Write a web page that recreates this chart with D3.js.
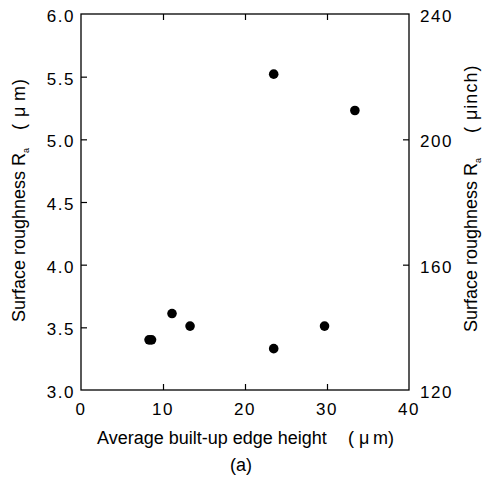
<!DOCTYPE html>
<html>
<head>
<meta charset="utf-8">
<script src="https://cdn.jsdelivr.net/npm/d3@7"></script>
<style>
    body { margin: 0; background: #fff; }
    text { font-family: "Liberation Sans", Arial, sans-serif; fill: #000; }
</style>
</head>
<body>
<div id="chart"></div>
<script>
// built-up edge height (um) and surface roughness Ra (um)
var edgeHeight = [8.3, 8.6, 11.1, 13.3, 23.5, 23.5, 29.7, 33.4];
var roughness = [3.40, 3.40, 3.61, 3.51, 3.33, 5.52, 3.51, 5.23];

var xTicks = [0, 10, 20, 30, 40];
var yTicks = [3.0, 3.5, 4.0, 4.5, 5.0, 5.5, 6.0];
var yInchTicks = [120, 160, 200, 240];

var svgWidth = 482;
var svgHeight = 479;
var margin = { left: 81, top: 14, right: 73, bottom: 89 };
var w = svgWidth - margin.left - margin.right;
var h = svgHeight - margin.top - margin.bottom;

var svg = d3.select("#chart").append("svg")
    .attr("width", svgWidth)
    .attr("height", svgHeight);

var x = d3.scaleLinear().domain([0, 40]).range([0, w]);
var y = d3.scaleLinear().domain([3, 6]).range([h, 0]);
var yInch = d3.scaleLinear().domain([120, 240]).range([h, 0]);

var g = svg.append("g")
    .attr("transform", "translate(" + margin.left + "," + margin.top + ")");

// frame
g.append("rect")
    .attr("width", w)
    .attr("height", h)
    .attr("fill", "none")
    .attr("stroke", "#000")
    .attr("stroke-width", 1.3);

// inward ticks, drawn as axes with no domain line
function tickAxis(axis, tr) {
    var a = g.append("g").attr("transform", tr).call(axis);
    a.select(".domain").remove();
    a.selectAll("line").attr("stroke", "#000").attr("stroke-width", 1.2);
    return a;
}

var inner = xTicks.slice(1, -1);
tickAxis(d3.axisBottom(x).tickValues(inner).tickSize(-6).tickFormat(""), "translate(0," + h + ")");
tickAxis(d3.axisTop(x).tickValues(inner).tickSize(-6).tickFormat(""), "translate(0,0)");
tickAxis(d3.axisLeft(y).tickValues(yTicks.slice(1, -1)).tickSize(-6).tickFormat(""), "translate(0,0)");
tickAxis(d3.axisRight(yInch).tickValues(yInchTicks.slice(1, -1)).tickSize(-6).tickFormat(""), "translate(" + w + ",0)");

// tick labels
g.selectAll(".xlab").data(xTicks).enter().append("text")
    .attr("x", function (d) { return x(d); })
    .attr("y", h + 25)
    .attr("text-anchor", "middle")
    .style("font-size", "17px")
    .style("letter-spacing", "1.5px")
    .text(function (d) { return d; });

g.selectAll(".ylab").data(yTicks).enter().append("text")
    .attr("x", -6)
    .attr("y", function (d) { return y(d) + 8; })
    .attr("text-anchor", "end")
    .style("font-size", "17px")
    .style("letter-spacing", "1.5px")
    .text(function (d) { return d.toFixed(1); });

g.selectAll(".yilab").data(yInchTicks).enter().append("text")
    .attr("x", w + 11)
    .attr("y", function (d) { return yInch(d) + 8; })
    .style("font-size", "17px")
    .style("letter-spacing", "1.5px")
    .text(function (d) { return d; });

// points
g.selectAll("circle")
    .data(edgeHeight)
    .enter()
    .append("circle")
    .attr("cx", function (d) { return x(d); })
    .attr("cy", function (d, i) { return y(roughness[i]); })
    .attr("r", 4.8)
    .attr("fill", "#000");

// axis titles
var xt = svg.append("text")
    .attr("x", 97)
    .attr("y", 444)
    .style("font-size", "18px");
xt.append("tspan").text("Average built-up edge height");
xt.append("tspan").attr("x", 348).text("( μ\u2009m)");

svg.append("text")
    .attr("x", 241)
    .attr("y", 471)
    .attr("text-anchor", "middle")
    .style("font-size", "18px")
    .text("(a)");

function yTitle(cx, start, unitPos, unit) {
    var t = svg.append("text")
        .attr("transform", "translate(" + cx + "," + start + ") rotate(-90)")
        .style("font-size", "18px");
    t.append("tspan").text("Surface roughness R");
    t.append("tspan").attr("dy", 4).style("font-size", "9px").text("a");
    t.append("tspan").attr("dy", -4).attr("x", unitPos)
        .style("letter-spacing", "1px").text(unit);
}

yTitle(25, 322, 192, "( μ\u2009m)");
yTitle(477, 332, 199, "( μinch)");
</script>
</body>
</html>
